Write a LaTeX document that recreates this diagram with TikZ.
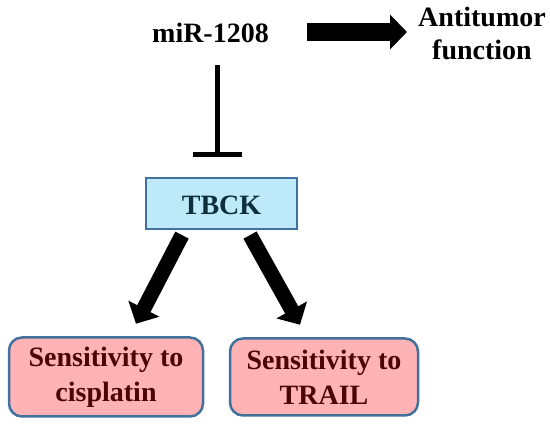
\documentclass[tikz,border=0pt]{standalone}
\usepackage{fontspec}
\setmainfont{Liberation Serif}
\usetikzlibrary{arrows.meta}
\definecolor{boxblue}{HTML}{41719C}
\definecolor{tbfill}{HTML}{BDE9F9}
\definecolor{pinkfill}{HTML}{FFB3B4}
\definecolor{tbtext}{HTML}{0E2F3C}
\definecolor{redtext}{HTML}{4C0505}
\begin{document}
\begin{tikzpicture}[x=1pt,y=-1pt,
  lbl/.style={font=\fontsize{28}{33}\selectfont\bfseries, align=center, inner sep=0pt},
  tbbox/.style={lbl, draw=boxblue, line width=2.2pt, fill=tbfill, text=tbtext,
    minimum width=151pt, minimum height=51pt, text height=28pt, text depth=5pt},
  sensbox/.style={lbl, font=\fontsize{28}{35}\selectfont\bfseries, draw=boxblue,
    line width=2.5pt, fill=pinkfill, text=redtext, rounded corners=13pt},
  fatarrow/.style={line width=15pt, -{Triangle[width=34pt,length=17pt]}},
  inhib/.style={line width=5pt, -{Bar[width=49pt]}}
]
\useasboundingbox (0,0) rectangle (550,425);
\node[lbl,anchor=base] (mir) at (210.5,43) {miR-1208};
\node[lbl] (anti) at (482,33.5) {Antitumor\\function};
\node[tbbox] (tbck) at (221.5,203.5) {TBCK};
\node[sensbox, minimum width=194pt, minimum height=79pt] (cis) at (106,377) {Sensitivity to\\cisplatin};
\node[sensbox, minimum width=188pt, minimum height=77pt] (trail) at (324,377) {Sensitivity to\\TRAIL};
\coordinate (hstart) at (307,32);
\coordinate (hend) at (407,32);
\draw[inhib] ([xshift=6.5pt,yshift=-22pt]mir.south) -- ([xshift=-4.5pt,yshift=19.5pt]tbck.north);
\draw[line width=18pt, -{Triangle[width=34pt,length=17pt]}] (hstart) -- (hend);
\draw[fatarrow] ([xshift=-39.5pt,yshift=-5pt]tbck.south) -- ([xshift=30pt,yshift=12.5pt]cis.north);
\draw[fatarrow] ([xshift=28.5pt,yshift=-5pt]tbck.south) -- ([xshift=-24pt,yshift=12.5pt]trail.north);
\end{tikzpicture}
\end{document}
